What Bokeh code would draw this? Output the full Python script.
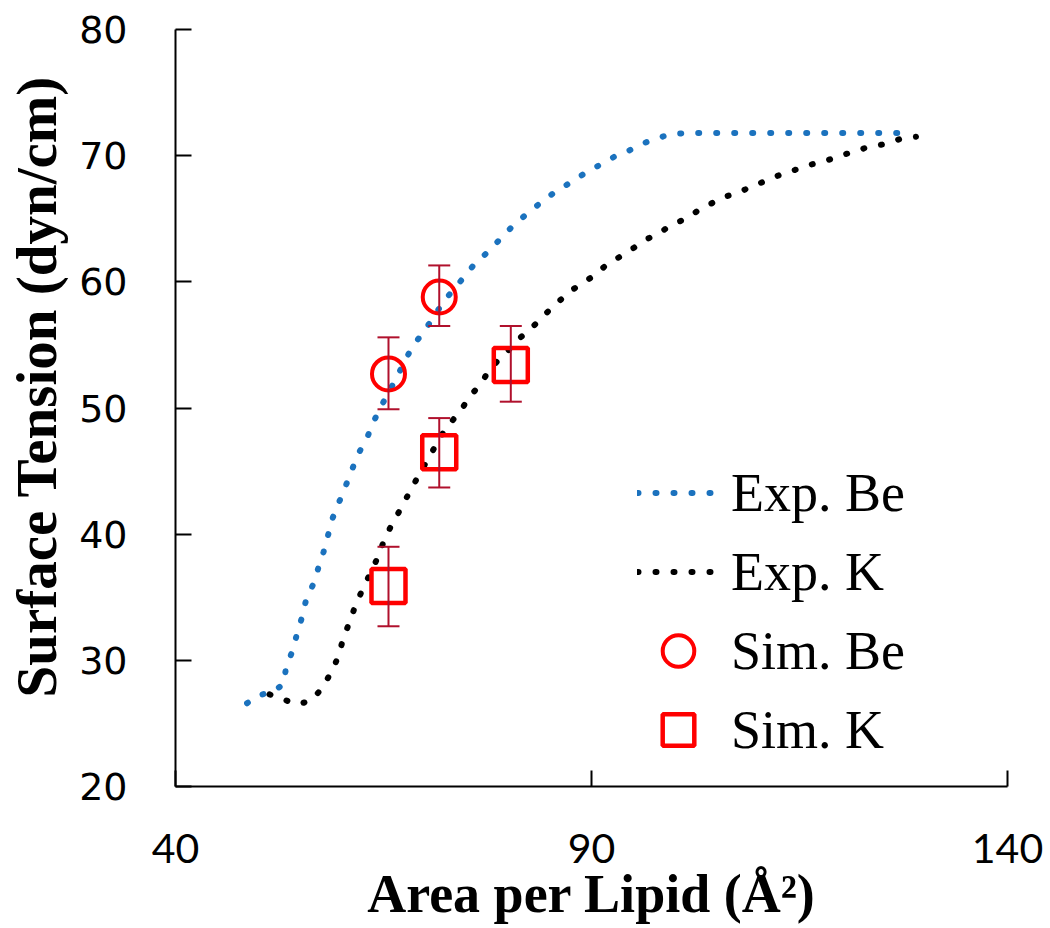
from bokeh.plotting import figure
from bokeh.models import Range1d, FixedTicker, ColumnDataSource, Whisker, TeeHead, Legend, LegendItem
from bokeh.embed import file_html
from bokeh.resources import INLINE

# ---- data ----
exp_be_x = [48.6, 49.9, 51.6, 53.0, 53.3, 54.1, 54.6, 55.2, 55.7, 56.6, 57.2, 57.8, 58.9, 59.7, 60.5,
            61.2, 62.0, 63.0, 63.8, 64.6, 66.4, 68.1, 69.1, 70.2, 72.3, 74.7, 75.8, 77.1, 78.2, 79.3,
            80.5, 81.9, 83.2, 84.7, 86.3, 87.8, 89.4, 91.1, 92.7, 94.5, 95.9, 97.6, 99.4, 101.5, 128.2]
exp_be_y = [26.6, 27.2, 27.5, 28.1, 29.5, 30.8, 32.1, 33.4, 34.8, 36.1, 37.4, 38.6, 41.3, 42.6, 43.9,
            45.1, 46.4, 47.6, 48.9, 50.0, 52.2, 54.4, 55.4, 56.4, 58.5, 60.4, 61.3, 62.1, 62.8, 63.6,
            64.4, 65.2, 65.9, 66.7, 67.4, 68.0, 68.7, 69.3, 69.9, 70.4, 70.9, 71.3, 71.7, 71.8, 71.8]

exp_k_x = [51.3, 53.0, 54.6, 56.3, 57.5, 58.5, 59.0, 59.6, 60.2, 60.9, 61.6, 62.4, 64.2, 64.9, 65.8,
           66.8, 67.7, 68.6, 69.5, 70.5, 71.4, 72.4, 73.4, 74.5, 75.3, 76.6, 77.6, 78.8, 79.9, 81.1,
           82.4, 83.5, 84.7, 86.0, 87.5, 89.0, 90.5, 91.9, 93.7, 95.1, 96.7, 98.2, 99.6, 101.3, 102.7,
           104.1, 105.8, 107.8, 109.3, 111.0, 112.7, 114.6, 116.4, 118.2, 119.9, 121.5, 123.3, 125.1,
           127.0, 129.0]
exp_k_y = [27.3, 26.9, 26.5, 26.8, 27.7, 28.8, 29.4, 30.4, 31.8, 33.0, 34.3, 35.5, 38.0, 39.2, 40.5,
           41.7, 42.8, 43.9, 45.0, 46.1, 47.2, 48.3, 49.1, 50.0, 50.9, 51.8, 52.9, 53.8, 54.5, 55.4,
           56.1, 56.8, 57.6, 58.4, 59.3, 59.9, 60.6, 61.4, 62.1, 62.7, 63.4, 63.9, 64.5, 65.0, 65.6,
           66.1, 66.7, 67.1, 67.6, 68.0, 68.5, 68.9, 69.3, 69.6, 70.0, 70.3, 70.7, 70.9,
           71.3, 71.5]

sim_be_x = [65.6, 71.7]
sim_be_y = [52.7, 58.8]
sim_be_upper = [55.6, 61.3]
sim_be_lower = [49.9, 56.5]

sim_k_x = [65.6, 71.7, 80.3]
sim_k_y = [35.9, 46.5, 53.4]
sim_k_upper = [39.0, 49.2, 56.5]
sim_k_lower = [32.7, 43.7, 50.5]

x_ticks = [40, 90, 140]
y_ticks = [20, 30, 40, 50, 60, 70, 80]

BLUE = "#1B72BE"
RED = "#FF0000"
ERR = "#B0102C"

p = figure(width=1050, height=928, output_backend="svg", toolbar_location=None,
           x_range=Range1d(40, 140), y_range=Range1d(20, 80),
           min_border_left=175, min_border_right=43, min_border_top=29, min_border_bottom=142)
p.grid.visible = False
p.outline_line_color = None

r_be = p.line(exp_be_x, exp_be_y, line_color=BLUE, line_width=6, line_dash="1 17", line_cap="round")
r_k = p.line(exp_k_x, exp_k_y, line_color="black", line_width=6, line_dash="1 17", line_cap="round")

src_be = ColumnDataSource(dict(x=sim_be_x, y=sim_be_y, up=sim_be_upper, lo=sim_be_lower))
src_k = ColumnDataSource(dict(x=sim_k_x, y=sim_k_y, up=sim_k_upper, lo=sim_k_lower))

r_sbe = p.scatter("x", "y", source=src_be, marker="circle", size=33, line_color=RED,
                  line_width=4, fill_color=None)
r_sk = p.scatter("x", "y", source=src_k, marker="square", size=34, line_color=RED,
                 line_width=4.5, fill_color=None)

for src in (src_be, src_k):
    w = Whisker(base="x", upper="up", lower="lo", source=src, dimension="height",
                line_color=ERR, line_width=2, level="overlay",
                upper_head=TeeHead(size=22, line_color=ERR, line_width=2),
                lower_head=TeeHead(size=22, line_color=ERR, line_width=2))
    p.add_layout(w)

# axes
for ax in (p.xaxis[0], p.yaxis[0]):
    ax.axis_line_color = "black"
    ax.axis_line_width = 2
    ax.major_tick_line_color = "black"
    ax.major_tick_line_width = 2
    ax.major_tick_in = 16
    ax.major_tick_out = 0
    ax.minor_tick_line_color = None
    ax.major_label_text_color = "black"
    ax.axis_label_text_color = "black"
    ax.axis_label_text_font = "Liberation Serif"
    ax.axis_label_text_font_style = "bold"

p.xaxis.ticker = FixedTicker(ticks=x_ticks)
p.yaxis.ticker = FixedTicker(ticks=y_ticks)

p.xaxis.axis_label = "Area per Lipid (Å²)"
p.xaxis.axis_label_text_font_size = "54px"
p.xaxis.major_label_text_font = "Lato"
p.xaxis.major_label_text_font_size = "41px"
p.xaxis.major_label_standoff = 47
p.xaxis.axis_label_standoff = -2

p.yaxis.axis_label = "\u00a0\u00a0\u00a0Surface Tension (dyn/cm)"
p.yaxis.axis_label_text_font_size = "57px"
p.yaxis.major_label_text_font = "DejaVu Sans"
p.yaxis.major_label_text_font_size = "38px"
p.yaxis.major_label_standoff = 48
p.yaxis.axis_label_standoff = 8

legend = Legend(items=[
    LegendItem(label="Exp. Be", renderers=[r_be]),
    LegendItem(label="Exp. K", renderers=[r_k]),
    LegendItem(label="Sim. Be", renderers=[r_sbe]),
    LegendItem(label="Sim. K", renderers=[r_sk]),
], location=(462, 17))
legend.glyph_width = 82
legend.glyph_height = 79
legend.label_height = 79
legend.spacing = 0
legend.padding = 0
legend.margin = 0
legend.label_standoff = 12
legend.label_text_font = "Liberation Serif"
legend.label_text_font_size = "54px"
legend.label_text_color = "black"
legend.border_line_color = None
legend.background_fill_alpha = 0
p.add_layout(legend)

open("out.html", "w").write(file_html(p, INLINE))
